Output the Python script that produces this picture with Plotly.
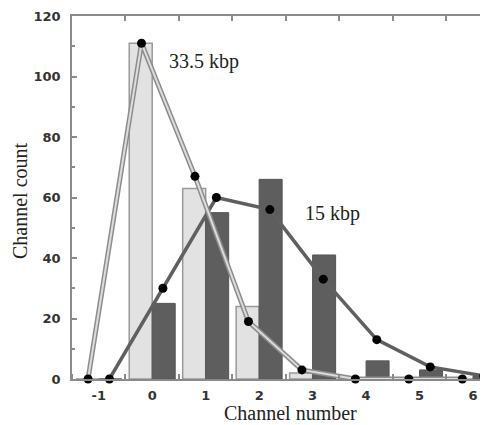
import plotly.graph_objects as go

# Data
channels = [-1, 0, 1, 2, 3, 4, 5, 6]
bars_33kbp = [0, 111, 63, 24, 2, 0, 0, 0]
bars_15kbp = [0, 25, 55, 66, 41, 6, 3, 1]
fit_33kbp = [0, 111, 67, 19, 3, 0, 0, 0]
fit_15kbp = [0, 30, 60, 56, 33, 13, 4, 1]
x_ticklabels = ["-1", "0", "1", "2", "3", "4", "5", "6"]

offset = 0.2
x_fit_33 = [c - offset for c in channels]
x_fit_15 = [c + offset for c in channels]

fig = go.Figure()

fig.add_trace(go.Bar(x=channels, y=bars_33kbp, name="33.5 kbp",
                     marker=dict(color="#e2e2e2", line=dict(color="#9a9a9a", width=1.5))))
fig.add_trace(go.Bar(x=channels, y=bars_15kbp, name="15 kbp",
                     marker=dict(color="#5e5e5e", line=dict(color="#555555", width=1))))

# 15 kbp fit line
fig.add_trace(go.Scatter(x=x_fit_15, y=fit_15kbp, mode="lines+markers",
                         line=dict(color="#606060", width=3.5),
                         marker=dict(color="black", size=9),
                         cliponaxis=False, showlegend=False))
# 33.5 kbp fit line (double line look)
fig.add_trace(go.Scatter(x=x_fit_33, y=fit_33kbp, mode="lines",
                         line=dict(color="#8c8c8c", width=5),
                         cliponaxis=False, showlegend=False))
fig.add_trace(go.Scatter(x=x_fit_33, y=fit_33kbp, mode="lines+markers",
                         line=dict(color="#dcdcdc", width=2),
                         marker=dict(color="black", size=9),
                         cliponaxis=False, showlegend=False))
# invisible trace to anchor the top axis
fig.add_trace(go.Scatter(x=channels, y=fit_33kbp, xaxis="x2", mode="none",
                         hoverinfo="skip", showlegend=False))

# page body has an 8px margin; compensate
B = 8
W, H = 488 - B, 425 - B
ml, mt, mr, mb = 72 - B, 16 - B, 0, 46
pw, ph = W - ml - mr, H - mt - mb

tickfont = dict(family="DejaVu Sans", size=13, color="#333", weight="bold")
serif = dict(family="Liberation Serif", size=20, color="#222")

def px2paper(x, y):
    return ((x - B - ml) / pw, 1 - (y - B - mt) / ph)

ann_specs = [
    ("33.5 kbp", 204, 62, 0),
    ("15 kbp", 332, 213, 0),
    ("Channel number", 290, 413, 0),
    ("Channel count", 20, 201, -90),
]
annotations = []
for text, x, y, ang in ann_specs:
    ax, ay = px2paper(x, y)
    annotations.append(dict(text=text, x=ax, y=ay, xref="paper", yref="paper",
                            xanchor="center", yanchor="middle", showarrow=False,
                            textangle=ang, font=serif))

xrange = [-1.5, 6.28]
edge_ticks = dict(tick0=0.5, dtick=1, ticks="inside", ticklen=5,
                  tickcolor="#8a8a8a", tickwidth=1.5, showgrid=False)

fig.update_layout(
    width=W, height=H,
    margin=dict(l=ml, r=mr, t=mt, b=mb, pad=0),
    paper_bgcolor="white", plot_bgcolor="white",
    barmode="group", bargap=0.14, bargroupgap=0,
    showlegend=False,
    xaxis=dict(range=xrange, showgrid=False, zeroline=False,
               showline=True, linecolor="#8a8a8a", linewidth=1.5, mirror=True,
               tickvals=channels, ticktext=x_ticklabels, ticks="",
               tickfont=tickfont, ticklabelstandoff=4,
               minor=edge_ticks),
    xaxis2=dict(range=xrange, overlaying="x", side="top", anchor="y",
                showgrid=False, zeroline=False, showline=False,
                showticklabels=False, tick0=0.5, dtick=1, ticks="inside",
                ticklen=5, tickcolor="#8a8a8a", tickwidth=1.5),
    yaxis=dict(range=[0, 120], showgrid=False, zeroline=False,
               showline=True, linecolor="#8a8a8a", linewidth=1.5,
               dtick=20, ticks="inside", ticklen=5, tickcolor="#8a8a8a", tickwidth=1.5,
               tickfont=tickfont, ticklabelstandoff=7,
               minor=dict(dtick=10, ticks="inside", ticklen=3, tickcolor="#8a8a8a",
                          showgrid=False)),
    annotations=annotations,
)

fig.write_html("out.html")
